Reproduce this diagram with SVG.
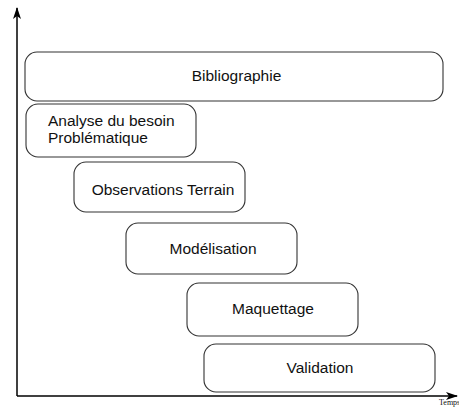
<svg xmlns="http://www.w3.org/2000/svg" width="459" height="409" viewBox="0 0 459 409">
<style>
.box{fill:#fff;stroke:#333;stroke-width:1.1}
.lbl{font-family:"Liberation Sans",Arial,sans-serif;font-size:15.5px;fill:#111}
.c{text-anchor:middle}
.axis{fill:none;stroke:#000;stroke-width:1.5}
</style>
<defs>
<marker id="ah" markerWidth="12" markerHeight="8" refX="11" refY="4" orient="auto" markerUnits="userSpaceOnUse">
<path d="M0,0 L12,4 L0,8 L3,4 Z" fill="#000"/>
</marker>
</defs>
<rect width="459" height="409" fill="#fff"/>
<g id="connectors">
<line class="axis" x1="17" y1="396" x2="17" y2="8" marker-end="url(#ah)"/>
<line class="axis" x1="17" y1="396" x2="457" y2="396" marker-end="url(#ah)"/>
</g>
<g id="temps"><text x="439" y="405" font-family="Liberation Serif,serif" font-size="8" fill="#111">Temps</text></g>
<g id="bibliographie">
<rect class="box" x="25" y="52" width="418" height="49" rx="12"/>
<text class="lbl c" x="236.5" y="81">Bibliographie</text>
</g>
<g id="analyse">
<rect class="box" x="26" y="104" width="170" height="53" rx="12"/>
<text class="lbl" x="48" y="125.5" font-size="15">Analyse du besoin</text>
<text class="lbl" x="48" y="143" font-size="15">Problématique</text>
</g>
<g id="observations">
<rect class="box" x="74" y="162" width="171" height="50" rx="12"/>
<text class="lbl c" x="163" y="195">Observations Terrain</text>
</g>
<g id="modelisation">
<rect class="box" x="126" y="223" width="171" height="51" rx="12"/>
<text class="lbl c" x="213" y="254">Modélisation</text>
</g>
<g id="maquettage">
<rect class="box" x="187" y="283" width="171" height="53" rx="12"/>
<text class="lbl c" x="273" y="314">Maquettage</text>
</g>
<g id="validation">
<rect class="box" x="204" y="344" width="231" height="48" rx="12"/>
<text class="lbl c" x="320" y="373">Validation</text>
</g>
</svg>
